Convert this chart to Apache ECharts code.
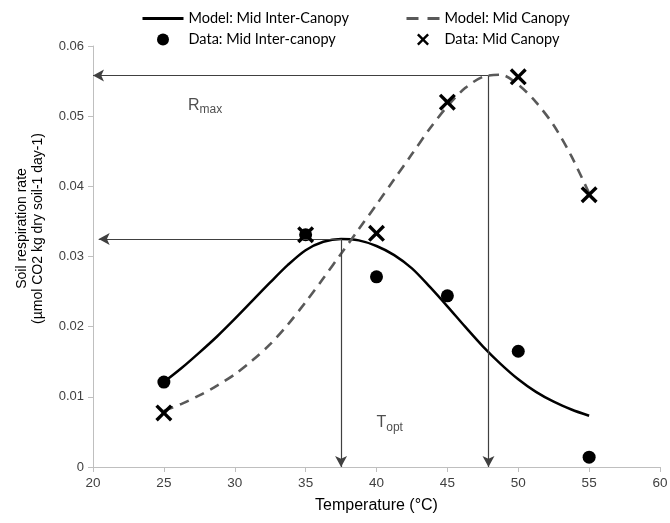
<!DOCTYPE html>
<html>
<head>
<meta charset="utf-8">
<script src="https://cdn.jsdelivr.net/npm/echarts@6/dist/echarts.min.js"></script>
<style>
  html, body { margin: 0; padding: 0; background: #fff; }
  #main { width: 670px; height: 523px; }
</style>
</head>
<body>
<div id="main"></div>
<script>
// measured data
var dataTemps = [25, 35, 40, 45, 50, 55];
var interCanopyData = [0.0121, 0.0331, 0.0271, 0.0244, 0.0165, 0.0014];
var canopyData = [0.0077, 0.0331, 0.0333, 0.052, 0.0556, 0.0388];

// model curves
var modelTemps = [25, 26.25, 27.5, 28.75, 30, 31.25, 32.5, 33.75, 35, 36.25, 37.5, 38.75, 40,
  41.25, 42.5, 43.75, 45, 46.25, 47.5, 48.75, 50, 51.25, 52.5, 53.75, 55];
var interCanopyModel = [0.0121, 0.0141, 0.0163, 0.0186, 0.0211, 0.0237, 0.0263, 0.0288, 0.0309, 0.0321, 0.0325, 0.0323, 0.0315,
  0.0302, 0.0283, 0.0257, 0.0229, 0.0200, 0.0172, 0.0147, 0.0125, 0.0107, 0.0093, 0.0082, 0.0073];
var canopyModel = [0.0080, 0.0090, 0.0102, 0.0116, 0.0132, 0.0152, 0.0175, 0.0203, 0.0235, 0.0269, 0.0304, 0.0339, 0.0374,
  0.0410, 0.0446, 0.0482, 0.0514, 0.0540, 0.0556, 0.0559, 0.0545, 0.0520, 0.0487, 0.0443, 0.0390];

// optimum points for arrows: [Topt, Rmax]
var canopyOpt = [47.9, 0.0558];
var interOpt = [37.5, 0.0325];

function pairs(xs, ys) {
  return xs.map(function (x, i) { return [x, ys[i]]; });
}

var crossPath = 'path://M0,1.4L1.4,0L5,3.6L8.6,0L10,1.4L6.4,5L10,8.6L8.6,10L5,6.4L1.4,10L0,8.6L3.6,5Z';
var arrowStyle = { color: '#404040', width: 1.2, type: 'solid' };
var legendText = { fontFamily: 'Lato', fontSize: 14.5, color: '#000' };

var chart = echarts.init(document.getElementById('main'));
var option = {
  animation: false,
  textStyle: { fontFamily: 'Liberation Sans' },
  legend: [
    {
      left: 141, top: 11, padding: 0, orient: 'vertical', itemGap: 6, itemWidth: 41, itemHeight: 12,
      textStyle: legendText,
      data: [
        { name: 'Model: Mid Inter-Canopy', itemStyle: { opacity: 0 }, lineStyle: { width: 3 } },
        'Data: Mid Inter-canopy'
      ]
    },
    {
      left: 405, top: 11, padding: 0, orient: 'vertical', itemGap: 6, itemWidth: 33, itemHeight: 12,
      textStyle: legendText,
      data: [
        { name: 'Model: Mid Canopy', itemStyle: { opacity: 0 }, lineStyle: { type: [12, 9], width: 3 } },
        'Data: Mid Canopy'
      ]
    }
  ],
  grid: { left: 93, right: 10, top: 46, bottom: 56, outerBoundsMode: 'none' },
  xAxis: {
    type: 'value', min: 20, max: 60, interval: 5,
    name: 'Temperature (°C)', nameLocation: 'middle', nameGap: 31,
    nameTextStyle: { fontSize: 16, color: '#000' },
    axisLine: { lineStyle: { color: '#bfbfbf' } },
    axisTick: { show: true, length: 5, lineStyle: { color: '#bfbfbf' } },
    axisLabel: { fontSize: 13.5, color: '#404040', margin: 9 },
    splitLine: { show: false }
  },
  yAxis: {
    type: 'value', min: 0, max: 0.06, interval: 0.01,
    name: 'Soil respiration rate\n(µmol CO2 kg dry soil-1 day-1)',
    nameLocation: 'middle', nameGap: 47, nameRotate: 90,
    nameTextStyle: { fontSize: 14, color: '#000', lineHeight: 16, padding: [0, 0, 0, 56] },
    axisLine: { show: true, lineStyle: { color: '#bfbfbf' } },
    axisTick: { show: true, length: 5, lineStyle: { color: '#bfbfbf' } },
    axisLabel: { fontSize: 13, color: '#404040', margin: 9 },
    splitLine: { show: false }
  },
  series: [
    {
      name: 'Model: Mid Inter-Canopy', type: 'line', smooth: 0.3, symbol: 'none',
      lineStyle: { color: '#000', width: 2.5 }, itemStyle: { color: '#000' },
      data: pairs(modelTemps, interCanopyModel), z: 3
    },
    {
      name: 'Model: Mid Canopy', type: 'line', smooth: 0.3, symbol: 'none',
      lineStyle: { color: '#595959', width: 2.6, type: [10, 7] }, itemStyle: { color: '#595959' },
      data: pairs(modelTemps, canopyModel), z: 3,
      markLine: {
        silent: true, symbol: ['none', 'arrow'], symbolSize: [9, 11],
        label: { show: false }, lineStyle: arrowStyle,
        data: [
          [{ coord: canopyOpt }, { coord: [20, canopyOpt[1]] }],
          [{ coord: canopyOpt }, { coord: [canopyOpt[0], 0] }],
          [{ coord: interOpt }, { coord: [20.4, interOpt[1]] }],
          [{ coord: interOpt }, { coord: [interOpt[0], 0] }]
        ]
      }
    },
    {
      name: 'Data: Mid Inter-canopy', type: 'scatter', symbol: 'circle', symbolSize: 13,
      itemStyle: { color: '#000', opacity: 1 },
      data: pairs(dataTemps, interCanopyData), z: 4
    },
    {
      name: 'Data: Mid Canopy', type: 'scatter', symbol: crossPath, symbolSize: 17,
      itemStyle: { color: '#000', opacity: 1 },
      data: pairs(dataTemps, canopyData), z: 5
    },
    {
      name: 'labels', type: 'scatter', symbolSize: 0, silent: true,
      data: [
        { value: [26.7, 0.0515], label: { formatter: '{a|R}{b|max}' } },
        { value: [40.0, 0.0063], label: { formatter: '{a|T}{b|opt}' } }
      ],
      label: {
        show: true, position: 'right', distance: 0,
        rich: {
          a: { fontSize: 16, color: '#222', fontFamily: 'Liberation Sans' },
          b: { fontSize: 12, color: '#222', fontFamily: 'Liberation Sans', padding: [9, 0, 0, 0] }
        }
      }
    }
  ]
};
chart.setOption(option);
</script>
</body>
</html>
